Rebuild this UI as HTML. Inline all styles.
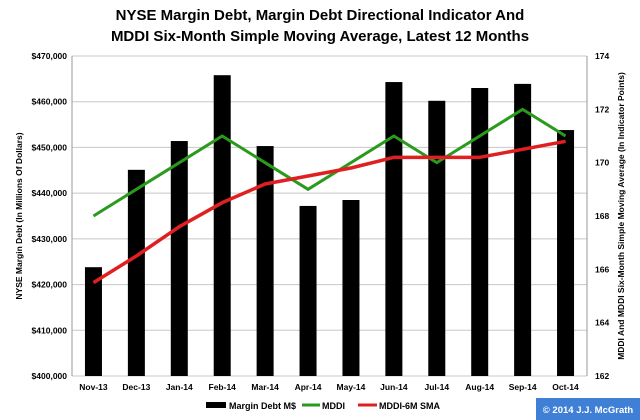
<!DOCTYPE html>
<html><head><meta charset="utf-8"><style>
body{margin:0;background:#fff;}
svg{display:block;font-family:"Liberation Sans",sans-serif;}
</style></head><body>
<svg id="c" width="640" height="420" viewBox="0 0 640 420">
<rect x="0" y="0" width="640" height="420" fill="#fff"/>
<text x="320" y="20" text-anchor="middle" font-size="15" font-weight="bold">NYSE Margin Debt, Margin Debt Directional Indicator And</text>
<text x="320" y="41" text-anchor="middle" font-size="15" font-weight="bold">MDDI Six-Month Simple Moving Average, Latest 12 Months</text>
<g id="grid"></g><g id="bars"></g><g id="lines"></g><g id="axes"></g>
<text transform="translate(22,216) rotate(-90)" text-anchor="middle" font-size="8.5" font-weight="bold">NYSE Margin Debt (In Millions Of Dollars)</text>
<text transform="translate(624,216) rotate(-90)" text-anchor="middle" font-size="8.5" font-weight="bold">MDDI And MDDI Six-Month Simple Moving Average (In Indicator Points)</text>
<g>
<rect x="206" y="402" width="20" height="6" fill="#000"/>
<text x="229" y="409" font-size="9" font-weight="bold">Margin Debt M$</text>
<line x1="302" y1="405" x2="320" y2="405" stroke="#2a9a1c" stroke-width="3"/>
<text x="322" y="409" font-size="9" font-weight="bold">MDDI</text>
<line x1="358" y1="405" x2="377" y2="405" stroke="#e02020" stroke-width="3"/>
<text x="379" y="409" font-size="9" font-weight="bold">MDDI-6M SMA</text>
</g>
<rect x="536" y="398" width="104" height="22" fill="#3f7fd6"/>
<text x="588" y="413" text-anchor="middle" font-size="9.5" font-weight="bold" fill="#fff">© 2014 J.J. McGrath</text>
</svg>
<script>
const categories=["Nov-13","Dec-13","Jan-14","Feb-14","Mar-14","Apr-14","May-14","Jun-14","Jul-14","Aug-14","Sep-14","Oct-14"];
const marginDebt=[423.8,445.1,451.4,465.8,450.3,437.2,438.5,464.3,460.2,463.0,463.9,453.8];
const mddi=[168,169,170,171,170,169,170,171,170,171,172,171];
const sma=[165.5,166.5,167.6,168.5,169.2,169.5,169.8,170.2,170.2,170.2,170.5,170.8];
const leftTicks=[400,410,420,430,440,450,460,470];
const rightTicks=[162,164,166,168,170,172,174];

const NS="http://www.w3.org/2000/svg";
const X0=72,X1=587,Y0=56,Y1=376;
const bw=(X1-X0)/categories.length;
const xc=i=>X0+bw*(i+0.5);
const yl=v=>Y1-(v-400)/70*(Y1-Y0);
const yr=v=>Y1-(v-162)/12*(Y1-Y0);
function mk(tag,attrs,parent){const e=document.createElementNS(NS,tag);for(const k in attrs)e.setAttribute(k,attrs[k]);document.getElementById(parent).appendChild(e);return e;}
leftTicks.forEach(t=>{
  const g=mk("line",{x1:X0,x2:X1,y1:yl(t),y2:yl(t),stroke:"#c8c8c8","stroke-width":1},"grid");
  
  
  const l=mk("text",{x:X0-5,y:yl(t)+3,"text-anchor":"end","font-size":8.5,"font-weight":"bold"},"axes");
  l.textContent="$"+t+",000";
  
  
});
rightTicks.forEach(t=>{
  const l=mk("text",{x:X1+8,y:yr(t)+3,"font-size":8.5,"font-weight":"bold"},"axes");
  l.textContent=t;
  
  
});
const a1=mk("line",{x1:X0,x2:X0,y1:Y0,y2:Y1,stroke:"#999"},"axes");


const a2=mk("line",{x1:X1,x2:X1,y1:Y0,y2:Y1,stroke:"#999"},"axes");


categories.forEach((c,i)=>{
  const b=mk("rect",{x:xc(i)-8.5,y:yl(marginDebt[i]),width:17,height:Y1-yl(marginDebt[i]),fill:"#000"},"bars");
  
  
  const l=mk("text",{x:xc(i),y:Y1+14,"text-anchor":"middle","font-size":8.5,"font-weight":"bold"},"axes");
  l.textContent=c;
  
  
});
const p1=mk("polyline",{points:mddi.map((v,i)=>xc(i)+","+yr(v)).join(" "),fill:"none",stroke:"#2a9a1c","stroke-width":3},"lines");


const p2=mk("polyline",{points:sma.map((v,i)=>xc(i)+","+yr(v)).join(" "),fill:"none",stroke:"#e02020","stroke-width":3.5,"stroke-linejoin":"round"},"lines");


</script>
</body></html>
